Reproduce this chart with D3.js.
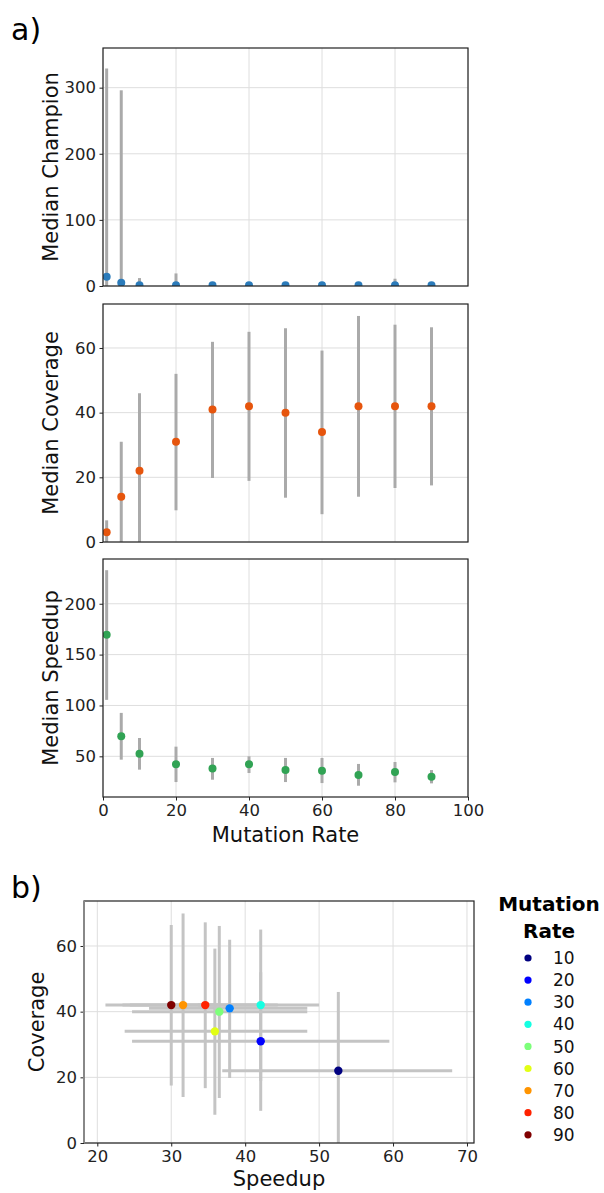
<!DOCTYPE html>
<html>
<head>
<meta charset="utf-8">
<script src="https://cdnjs.cloudflare.com/ajax/libs/d3/7.8.5/d3.min.js"></script>
<style>
  body { margin: 0; background: #fff; }
  svg { display: block; font-family: "DejaVu Sans", sans-serif; }
</style>
</head>
<body>
<div id="chart"></div>
<script>
// mutation rates on the x axis of panel a
var rates = [1, 5, 10, 20, 30, 40, 50, 60, 70, 80, 90];

// median champion with lower / upper error bounds
var champMed = [14, 5, 1, 1, 1, 1, 1, 1, 1, 1, 1];
var champLo  = [0, 0, 0, 0, 0, 0, 0, 0, 0, 0, 0];
var champHi  = [329, 296, 12, 19, 2, 2, 2, 2, 2, 11, 2];

// median coverage
var covMed = [3, 14, 22, 31, 41, 42, 40, 34, 42, 42, 42];
var covLo  = [0, 0, 0, 9.8, 19.8, 18.9, 13.7, 8.6, 14, 16.7, 17.5];
var covHi  = [6.7, 31, 46, 52, 61.9, 65, 66.1, 59.2, 69.9, 67.2, 66.4];

// median speedup
var spMed = [169.5, 69.7, 52.6, 42.1, 37.9, 42.1, 36.5, 35.9, 31.6, 34.6, 30];
var spLo  = [105.5, 46.7, 36.9, 24.7, 27, 33.6, 24.7, 23.7, 21.1, 24.4, 23.4];
var spHi  = [233, 92.7, 68, 59.5, 48.4, 50, 48.4, 48.4, 42.5, 44.4, 36.5];

// panel b legend
var legendRates = [10, 20, 30, 40, 50, 60, 70, 80, 90];
var legendColors = ["#000080", "#0000ff", "#0080ff", "#15ffe2", "#7dff7a",
                    "#e2ff15", "#ff9400", "#ff2200", "#800000"];

var W = 604, H = 1193;
var svg = d3.select("#chart").append("svg").attr("width", W).attr("height", H);

var tickFont = 16.5, labelFont = 21;
var gridColor = "#dedede";

function panel(opt) {
  var g = svg.append("g");
  var x = d3.scaleLinear().domain(opt.xDomain).range([opt.left, opt.right]);
  var y = d3.scaleLinear().domain(opt.yDomain).range([opt.bottom, opt.top]);

  var clipId = "clip" + opt.id;
  svg.append("clipPath").attr("id", clipId).append("rect")
    .attr("x", opt.left).attr("y", opt.top)
    .attr("width", opt.right - opt.left).attr("height", opt.bottom - opt.top);

  // grid
  g.selectAll(".gx").data(opt.xTicks).enter().append("line")
    .attr("x1", d => x(d)).attr("x2", d => x(d))
    .attr("y1", opt.top).attr("y2", opt.bottom)
    .attr("stroke", gridColor).attr("stroke-width", 1);
  g.selectAll(".gy").data(opt.yTicks).enter().append("line")
    .attr("y1", d => y(d)).attr("y2", d => y(d))
    .attr("x1", opt.left).attr("x2", opt.right)
    .attr("stroke", gridColor).attr("stroke-width", 1);

  var plot = g.append("g").attr("clip-path", "url(#" + clipId + ")");

  // y axis
  var yAxis = g.append("g").attr("transform", "translate(" + opt.left + ",0)")
    .call(d3.axisLeft(y).tickValues(opt.yTicks).tickSize(3.5).tickPadding(3.5));
  yAxis.select(".domain").remove();
  yAxis.selectAll("text").attr("font-size", tickFont).attr("fill", "#222")
    .attr("font-family", "DejaVu Sans");
  yAxis.selectAll("line").attr("stroke", "#222");

  if (opt.showX) {
    var xAxis = g.append("g").attr("transform", "translate(0," + opt.bottom + ")")
      .call(d3.axisBottom(x).tickValues(opt.xTicks).tickSize(3.5).tickPadding(3.5));
    xAxis.select(".domain").remove();
    xAxis.selectAll("text").attr("font-size", tickFont).attr("fill", "#222")
      .attr("font-family", "DejaVu Sans");
    xAxis.selectAll("line").attr("stroke", "#222");
  }

  // frame
  g.append("rect")
    .attr("x", opt.left).attr("y", opt.top)
    .attr("width", opt.right - opt.left).attr("height", opt.bottom - opt.top)
    .attr("fill", "none").attr("stroke", "#222").attr("stroke-width", 1.2);

  if (opt.yLabel) {
    g.append("text")
      .attr("transform", "translate(" + opt.yLabelX + "," + ((opt.top + opt.bottom) / 2) + ") rotate(-90)")
      .attr("text-anchor", "middle").attr("font-size", labelFont).attr("fill", "#111")
      .text(opt.yLabel);
  }
  if (opt.xLabel) {
    g.append("text")
      .attr("x", (opt.left + opt.right) / 2).attr("y", opt.xLabelY)
      .attr("text-anchor", "middle").attr("font-size", labelFont).attr("fill", "#111")
      .text(opt.xLabel);
  }
  return { g: g, plot: plot, x: x, y: y };
}

function errorPanel(p, med, lo, hi, color) {
  var idx = d3.range(rates.length);
  p.plot.selectAll(".eb").data(idx).enter().append("line")
    .attr("x1", i => p.x(rates[i])).attr("x2", i => p.x(rates[i]))
    .attr("y1", i => p.y(lo[i])).attr("y2", i => p.y(hi[i]))
    .attr("stroke", "#aaaaaa").attr("stroke-width", 3);
  p.plot.selectAll(".pt").data(idx).enter().append("circle")
    .attr("cx", i => p.x(rates[i])).attr("cy", i => p.y(med[i]))
    .attr("r", 4).attr("fill", color);
}

var left = 103, right = 468;
var xTicksA = [0, 20, 40, 60, 80, 100];

var p1 = panel({ id: 1, left: left, right: right, top: 48, bottom: 286,
  xDomain: [0, 100], yDomain: [0, 360], xTicks: xTicksA, yTicks: [0, 100, 200, 300],
  yLabel: "Median Champion", yLabelX: 58 });
errorPanel(p1, champMed, champLo, champHi, "#2b7bba");

var p2 = panel({ id: 2, left: left, right: right, top: 304, bottom: 542,
  xDomain: [0, 100], yDomain: [0, 73.6], xTicks: xTicksA, yTicks: [0, 20, 40, 60],
  yLabel: "Median Coverage", yLabelX: 58 });
errorPanel(p2, covMed, covLo, covHi, "#e6550d");

var p3 = panel({ id: 3, left: left, right: right, top: 559, bottom: 797,
  xDomain: [0, 100], yDomain: [10, 244], xTicks: xTicksA, yTicks: [50, 100, 150, 200],
  yLabel: "Median Speedup", yLabelX: 58, showX: true,
  xLabel: "Mutation Rate", xLabelY: 842 });
errorPanel(p3, spMed, spLo, spHi, "#31a354");

// panel b: speedup vs coverage for rates 10..90
var pb = panel({ id: 4, left: 84, right: 474, top: 901, bottom: 1143,
  xDomain: [18.2, 70.95], yDomain: [0, 73.7], xTicks: [20, 30, 40, 50, 60, 70],
  yTicks: [0, 20, 40, 60], yLabel: "Coverage", yLabelX: 44, showX: true,
  xLabel: "Speedup", xLabelY: 1186 });
pb.g.append("line").attr("x1", 84).attr("x2", 84).attr("y1", 901).attr("y2", 1143)
  .attr("stroke", "#888").attr("stroke-width", 2);

var bIdx = legendRates.map(r => rates.indexOf(r));
var eb = pb.plot.append("g");
bIdx.forEach(function (i) {
  eb.append("line")
    .attr("x1", pb.x(spLo[i])).attr("x2", pb.x(spHi[i]))
    .attr("y1", pb.y(covMed[i])).attr("y2", pb.y(covMed[i]))
    .attr("stroke", "#c4c4c4").attr("stroke-width", 3);
  eb.append("line")
    .attr("x1", pb.x(spMed[i])).attr("x2", pb.x(spMed[i]))
    .attr("y1", pb.y(covLo[i])).attr("y2", pb.y(covHi[i]))
    .attr("stroke", "#c4c4c4").attr("stroke-width", 3);
});
bIdx.forEach(function (i, k) {
  pb.plot.append("circle")
    .attr("cx", pb.x(spMed[i])).attr("cy", pb.y(covMed[i]))
    .attr("r", 4.2).attr("fill", legendColors[k]);
});

// legend
var lg = svg.append("g");
lg.append("text").attr("x", 549).attr("y", 911).attr("text-anchor", "middle")
  .attr("font-size", 20).attr("font-weight", "bold").text("Mutation");
lg.append("text").attr("x", 549).attr("y", 938).attr("text-anchor", "middle")
  .attr("font-size", 20).attr("font-weight", "bold").text("Rate");
legendRates.forEach(function (r, k) {
  var yy = 958 + k * 22.1;
  lg.append("circle").attr("cx", 528).attr("cy", yy).attr("r", 3.6)
    .attr("fill", legendColors[k]);
  lg.append("text").attr("x", 553).attr("y", yy).attr("dy", "0.36em")
    .attr("font-size", 17).attr("fill", "#111").text(r);
});

// panel letters
svg.append("text").attr("x", 11).attr("y", 40).attr("font-size", 30).text("a)");
svg.append("text").attr("x", 11).attr("y", 898).attr("font-size", 30).text("b)");
</script>
</body>
</html>
